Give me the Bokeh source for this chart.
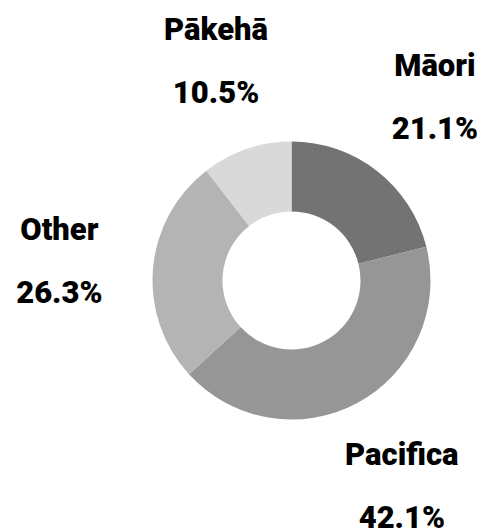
import numpy as np
from bokeh.plotting import figure
from bokeh.models import Range1d, ColumnDataSource
from bokeh.core.properties import value
from bokeh.embed import file_html
from bokeh.resources import INLINE

# data
categories = ["Māori", "Pacifica", "Other", "Pākehā"]
percents = [21.1, 42.1, 26.3, 10.5]
colors = ["#737373", "#969696", "#b4b4b4", "#d9d9d9"]

W, H = 479, 530
CX, CY = 291, 250          # donut centre (pixel space, y up)
R_IN, R_OUT = 69, 139
R_LABEL = 233
FONT = value("'Roboto Black', Roboto, sans-serif")
FSIZE = "31px"

frac = np.array(percents) / sum(percents)
cum_end = np.cumsum(frac)
cum_start = cum_end - frac
start_angle = np.pi / 2 - 2 * np.pi * cum_start
end_angle = np.pi / 2 - 2 * np.pi * cum_end
mid = (start_angle + end_angle) / 2

lx = CX + R_LABEL * np.cos(mid)
ly = CY + R_LABEL * np.sin(mid)

src = ColumnDataSource(dict(
    cat=categories, start=start_angle, end=end_angle, color=colors,
    x=[CX] * len(categories), y=[CY] * len(categories),
    lx=lx, ly_name=ly + 31, ly_val=ly - 32,
    val=[f"{v:.1f}%" for v in percents],
))

p = figure(width=W, height=H, output_backend="svg", toolbar_location=None,
           x_range=Range1d(0, W), y_range=Range1d(0, H),
           x_axis_type=None, y_axis_type=None, min_border=0)
p.grid.visible = False
p.outline_line_color = None
p.background_fill_color = "white"
p.border_fill_color = "white"

p.annular_wedge(x="x", y="y", inner_radius=R_IN, outer_radius=R_OUT,
                start_angle="start", end_angle="end", direction="clock",
                fill_color="color", line_color=None, source=src)

p.text(x="lx", y="ly_name", text="cat", source=src, text_align="center",
       text_baseline="alphabetic", text_font=FONT, text_font_style="bold",
       text_font_size=FSIZE, text_color="#000000")
p.text(x="lx", y="ly_val", text="val", source=src, text_align="center",
       text_baseline="alphabetic", text_font=FONT, text_font_style="bold",
       text_font_size=FSIZE, text_color="#000000")

open("out.html", "w").write(file_html(p, INLINE))
